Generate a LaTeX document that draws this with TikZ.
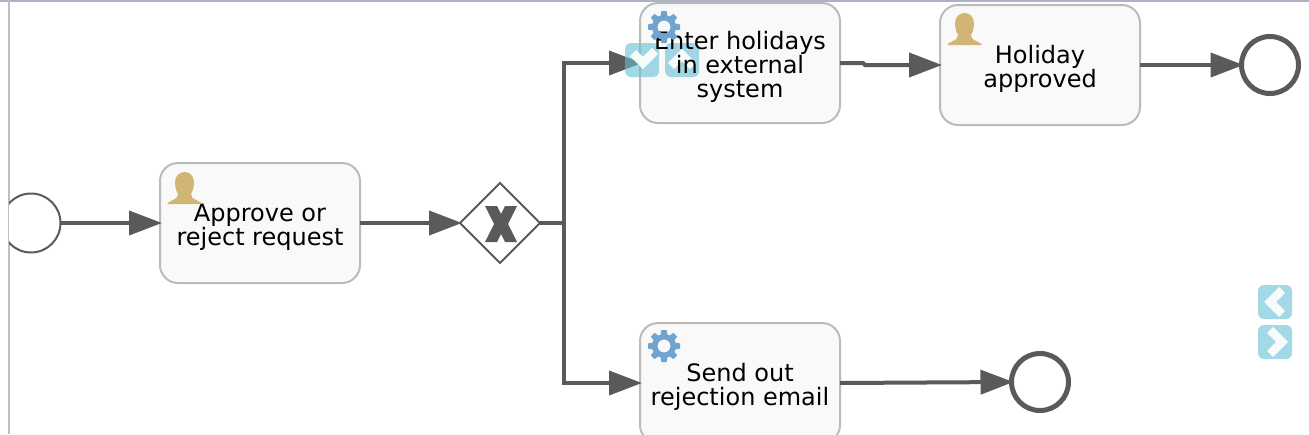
\documentclass[tikz,border=0pt]{standalone}
\usepackage{xcolor}
\usepackage{fontspec}
\setmainfont{DejaVu Sans}
\usetikzlibrary{arrows.meta,shapes.geometric}
\definecolor{FlowGray}{HTML}{5A5A5A}
\definecolor{TaskBorder}{HTML}{BBBBBB}
\definecolor{TaskFill}{HTML}{F9F9F9}
\definecolor{UserTan}{HTML}{D1B574}
\definecolor{GearBlue}{HTML}{6FA3D0}
\definecolor{ButtonBlue}{HTML}{66BED5}
\definecolor{TopLine}{HTML}{AAB2C4}
\definecolor{SideLine}{HTML}{BFBFBF}
\tikzset{
	task/.style={draw=TaskBorder,fill=TaskFill,line width=2pt,rounded corners=18pt,minimum width=200pt,minimum height=120pt,inner sep=0pt,outer sep=0pt},
	tasktext/.style={inner sep=0pt,align=center,font=\fontsize{24}{24}\selectfont},
	startev/.style={draw=FlowGray,fill=white,circle,line width=2pt,minimum size=59pt,inner sep=0pt,outer sep=0pt},
	endev/.style={draw=FlowGray,fill=white,circle,line width=5pt,minimum size=57pt,inner sep=0pt,outer sep=0pt},
	gateway/.style={draw=FlowGray,fill=white,diamond,line width=2pt,minimum size=80pt,inner sep=0pt,outer sep=0pt},
	flow/.style={draw=FlowGray,line width=4pt,shorten >=-2pt,-{Triangle[length=33pt,width=24pt]}},
	btn/.style={fill=ButtonBlue,fill opacity=.6,rounded corners=6pt},
	btnmark/.style={draw=white,draw opacity=.92,line width=8.5pt}
}
\newcommand{\usericon}[2]{% base centre of the icon
	\fill[UserTan,shift={(#1,#2)}] (-17,0)--(-17,-1)--(-8,-6)--(-6.5,-10)
		.. controls (-9,-14) and (-9.5,-19) .. (-9.5,-22)
		.. controls (-9.5,-28) and (-5,-32) .. (0,-32)
		.. controls (5,-32) and (9.5,-28) .. (9.5,-22)
		.. controls (9.5,-19) and (9,-14) .. (6.5,-10)
		--(8,-6)--(17,-1)--(17,0)--cycle;
}
\newcommand{\gearicon}[2]{% centre of the icon
	\begin{scope}[shift={(#1,#2)}]
		\fill[GearBlue,even odd rule] (0,0) circle (12) (0,0) circle (6.5);
		\foreach \a in {0,45,...,315}
			\fill[GearBlue,rotate=\a] (-3.5,10.5)--(-2.6,16)--(2.6,16)--(3.5,10.5)--cycle;
	\end{scope}
}
\begin{document}
\begin{tikzpicture}[x=1pt,y=-1pt]
	\useasboundingbox (0,0) rectangle (1309,434);
	\fill[white] (0,0) rectangle (1309,434);
	\draw[TopLine,line width=2pt] (0,1)--(1309,1);
	\draw[SideLine,line width=2pt] (9,0)--(9,434);
	% start event is cut by the side line
	\begin{scope}
		\clip (9,150) rectangle (100,300);
		\node[startev] (start) at (31,223) {};
	\end{scope}
	\node[task] (approve) at (260,223) {};
	\node[gateway] (choice) at (500,223) {};
	\node[task] (enter) at (740,63) {};
	\node[task] (approved) at (1040,65) {};
	\node[task] (reject) at (740,383) {};
	\node[endev] (endtop) at (1270,65) {};
	\node[endev] (endlow) at (1040,382) {};
	% flows
	\coordinate (fork) at (564,223);
	\coordinate (forkup) at (564,63);
	\coordinate (forklow) at (564,383);
	\coordinate (kinka) at (863,63);
	\coordinate (kinkb) at (865,65);
	\draw[flow] (start.east)--(approve.west);
	\draw[flow] (approve.east)--(choice.west);
	\draw[flow,line join=miter] (choice.east)--(fork)--(forkup)--(enter.west);
	\draw[flow,line join=miter] (fork)--(forklow)--(reject.west);
	\draw[flow] (enter.east)--(kinka)--(kinkb)--(approved.west);
	\draw[flow] (approved.east)--(endtop.west);
	\draw[flow] (reject.east)--(endlow.west);
	% gateway mark
	\fill[FlowGray] (485,206)--(497,206)--(501,214)--(505,206)--(517,206)--(508,224)--(517,242)--(505,242)--(501,234)--(497,242)--(485,242)--(494,224)--cycle;
	% overlay buttons, the texts lie over them
	\fill[btn] (625,43) rectangle (659,77);
	\fill[btn] (665,43) rectangle (699,77);
	\draw[btnmark] (633,53)--(643,63)--(655,51);
	\draw[btnmark] (671,66)--(682,55)--(693,66);
	\fill[btn] (1258,285) rectangle (1292,319);
	\fill[btn] (1258,325) rectangle (1292,359);
	\draw[btnmark] (1282,290)--(1270,302)--(1282,314);
	\draw[btnmark] (1270,330)--(1282,342)--(1270,354);
	% texts
	\node[tasktext] (approveText) at ([yshift=-4pt]approve.center) {Approve or\\reject request};
	\node[tasktext] (enterText) at ([yshift=-4pt]enter.center) {Enter holidays\\in external\\system};
	\node[tasktext] (approvedText) at ([yshift=-4pt]approved.center) {Holiday\\approved};
	\node[tasktext] (rejectText) at ([yshift=-4pt]reject.center) {Send out\\rejection email};
	% icons
	\usericon{184.5}{204}
	\usericon{964.5}{45}
	\gearicon{664}{27}
	\gearicon{664}{346}
\end{tikzpicture}
\end{document}
